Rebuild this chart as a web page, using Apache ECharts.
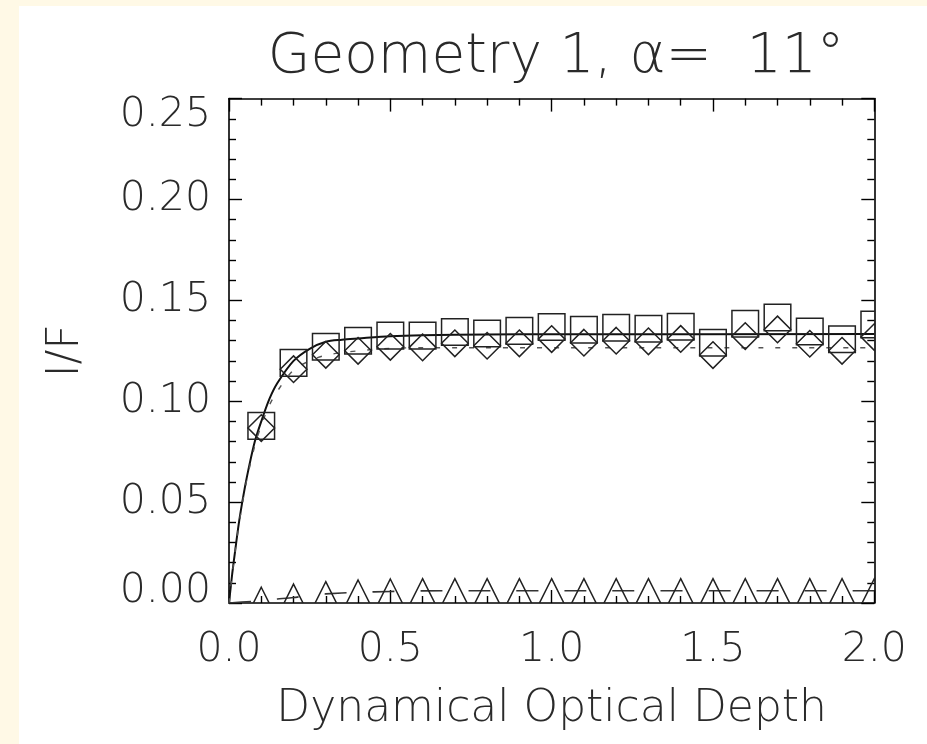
<!DOCTYPE html>
<html>
<head>
<meta charset="utf-8">
<script src="https://cdn.jsdelivr.net/npm/echarts@6/dist/echarts.min.js"></script>
<style>
  html, body { margin: 0; padding: 0; background: #FFF9E6; width: 927px; height: 744px; overflow: hidden; }
  #c { position: absolute; left: 19px; top: 6px; width: 908px; height: 738px; background: #ffffff; }
</style>
</head>
<body>
<div id="c"></div>
<script>
// ---- data ----
const tau = [0.1, 0.2, 0.3, 0.4, 0.5, 0.6, 0.7, 0.8, 0.9, 1.0,
             1.1, 1.2, 1.3, 1.4, 1.5, 1.6, 1.7, 1.8, 1.9, 2.0];
const squareValues = [0.0878, 0.1190, 0.1270, 0.1300, 0.1325, 0.1325, 0.1343, 0.1336, 0.1349, 0.1368,
                      0.1354, 0.1364, 0.1359, 0.1369, 0.1290, 0.1384, 0.1415, 0.1346, 0.1307, 0.1380];
const diamondValues = [0.0867, 0.1159, 0.1230, 0.1250, 0.1270, 0.1267, 0.1287, 0.1275, 0.1287, 0.1308,
                       0.1290, 0.1300, 0.1297, 0.1309, 0.1229, 0.1323, 0.1356, 0.1285, 0.1250, 0.1318];
const triangleValues = [0.0012, 0.0028, 0.0040, 0.0048, 0.0053, 0.0055, 0.0055, 0.0055, 0.0055, 0.0055,
                        0.0055, 0.0055, 0.0055, 0.0055, 0.0055, 0.0055, 0.0055, 0.0055, 0.0055, 0.0055];

const solidTau    = [0, 0.01, 0.02, 0.03, 0.04, 0.05, 0.06, 0.08, 0.10, 0.125, 0.15, 0.20, 0.25, 0.30, 0.35, 0.40, 0.50, 0.60, 0.80, 1.00, 2.00];
const solidValues = [0, 0.0145, 0.027, 0.039, 0.049, 0.058, 0.066, 0.080, 0.090, 0.101, 0.109, 0.120, 0.126, 0.1295, 0.1305, 0.1311, 0.1322, 0.1327, 0.1331, 0.1332, 0.1333];

const dashTau    = [0, 0.02, 0.05, 0.08, 0.10, 0.125, 0.15, 0.20, 0.25, 0.30, 0.40, 0.50, 0.60, 2.00];
const dashValues = [0, 0.027, 0.057, 0.078, 0.088, 0.098, 0.105, 0.1155, 0.120, 0.1228, 0.1250, 0.1262, 0.1265, 0.1265];

const lowTau    = [0, 0.07, 0.10, 0.15, 0.20, 0.25, 0.30, 0.40, 0.50, 0.60, 0.80, 2.00];
const lowValues = [0, 0.0008, 0.0013, 0.0020, 0.0027, 0.0038, 0.0045, 0.0053, 0.0057, 0.0060, 0.0061, 0.0061];

const xTicks = ['0.0', '0.5', '1.0', '1.5', '2.0'];
const yTicks = ['0.00', '0.05', '0.10', '0.15', '0.20', '0.25'];

const titleText = 'Geometry 1, α=  11°';
const xTitle = 'Dynamical Optical Depth';
const yTitle = 'I/F';

// ---- styling ----
const FONT = '"DejaVu Sans", "Liberation Sans", sans-serif';
const TXT = '#2a2a2a';
const INK = '#222222';
const HALF = 13.3;

function pairs(xs, ys) { return xs.map((x, i) => [x, ys[i]]); }

function markerSeries(name, xs, ys, shape) {
  return {
    type: 'custom', name: name, clip: true, z: 3,
    data: pairs(xs, ys),
    encode: { x: 0, y: 1 },
    renderItem: function (params, api) {
      const c = api.coord([api.value(0), api.value(1)]);
      const st = { fill: 'none', stroke: INK, lineWidth: 1.5 };
      if (shape === 'square') {
        return { type: 'rect', shape: { x: c[0] - HALF, y: c[1] - HALF, width: 2 * HALF, height: 2 * HALF }, style: st };
      }
      if (shape === 'diamond') {
        return { type: 'polygon', shape: { points: [[c[0], c[1] - HALF], [c[0] + HALF, c[1]], [c[0], c[1] + HALF], [c[0] - HALF, c[1]]] }, style: st };
      }
      return { type: 'polygon', shape: { points: [[c[0], c[1] - HALF], [c[0] + HALF, c[1] + HALF], [c[0] - HALF, c[1] + HALF]] }, style: st };
    }
  };
}

function lineSeries(name, xs, ys, type, width, color) {
  return {
    type: 'line', name: name, data: pairs(xs, ys), smooth: 0.3, showSymbol: false, symbol: 'none',
    clip: true, z: 2, animation: false,
    lineStyle: { type: type, width: width, color: color }
  };
}

const axisLineStyle = { color: '#000', width: 1.6 };
const tickStyle = { color: '#000', width: 1.4 };

const chart = echarts.init(document.getElementById('c'), null, { renderer: 'canvas' });
chart.setOption({
  animation: false,
  backgroundColor: '#ffffff',
  title: {
    text: titleText, left: 532, top: 19, textAlign: 'center',
    textStyle: { fontSize: 55, fontFamily: FONT, fontWeight: 200, color: TXT }
  },
  grid: { left: 210, top: 92.6, right: 52.7, bottom: 141, containLabel: false, outerBoundsMode: 'none' },
  xAxis: [
    {
      type: 'value', min: 0, max: 2, interval: 0.5, position: 'bottom',
      name: xTitle, nameLocation: 'middle', nameGap: 85,
      nameTextStyle: { fontSize: 44, fontFamily: FONT, fontWeight: 200, color: TXT },
      axisLine: { onZero: false, lineStyle: axisLineStyle },
      axisTick: { inside: true, length: 13, lineStyle: tickStyle },
      minorTick: { show: true, splitNumber: 5, length: 7, lineStyle: tickStyle },
      splitLine: { show: false },
      axisLabel: { fontSize: 41, fontFamily: FONT, fontWeight: 200, color: TXT, margin: 27,
                   formatter: function (v) { return xTicks[Math.round(v / 0.5)]; } }
    },
    {
      type: 'value', min: 0, max: 2, interval: 0.5, position: 'top',
      axisLine: { onZero: false, lineStyle: axisLineStyle },
      axisTick: { inside: true, length: 13, lineStyle: tickStyle },
      minorTick: { show: true, splitNumber: 5, length: 7, lineStyle: tickStyle },
      splitLine: { show: false },
      axisLabel: { show: false }
    }
  ],
  yAxis: [
    {
      type: 'value', min: 0, max: 0.25, interval: 0.05, position: 'left',
      name: yTitle, nameLocation: 'middle', nameGap: 140, nameRotate: 90,
      nameTextStyle: { fontSize: 44, fontFamily: FONT, fontWeight: 200, color: TXT },
      axisLine: { onZero: false, lineStyle: axisLineStyle },
      axisTick: { inside: true, length: 13, lineStyle: tickStyle },
      minorTick: { show: true, splitNumber: 5, length: 7, lineStyle: tickStyle },
      splitLine: { show: false },
      axisLabel: {
        fontSize: 41, fontFamily: FONT, fontWeight: 200, color: TXT, margin: 18,
        formatter: function (v) {
          const i = Math.round(v / 0.05);
          if (i === 0) return '{lo|' + yTicks[i] + '}';
          if (i === yTicks.length - 1) return '{hi|' + yTicks[i] + '}';
          return yTicks[i];
        },
        rich: {
          lo: { fontSize: 41, fontFamily: FONT, fontWeight: 200, color: TXT, padding: [0, 0, 24, 0] },
          hi: { fontSize: 41, fontFamily: FONT, fontWeight: 200, color: TXT, padding: [34, 0, 0, 0] }
        }
      }
    },
    {
      type: 'value', min: 0, max: 0.25, interval: 0.05, position: 'right',
      axisLine: { onZero: false, lineStyle: axisLineStyle },
      axisTick: { inside: true, length: 13, lineStyle: tickStyle },
      minorTick: { show: true, splitNumber: 5, length: 7, lineStyle: tickStyle },
      splitLine: { show: false },
      axisLabel: { show: false }
    }
  ],
  series: [
    lineSeries('model', solidTau, solidValues, 'solid', 2, '#111111'),
    lineSeries('model 2', dashTau, dashValues, [5, 12], 1.4, '#555555'),
    lineSeries('low', lowTau, lowValues, [22, 26], 1.6, '#333333'),
    markerSeries('squares', tau, squareValues, 'square'),
    markerSeries('diamonds', tau, diamondValues, 'diamond'),
    markerSeries('triangles', tau, triangleValues, 'triangle')
  ]
});
</script>
</body>
</html>
